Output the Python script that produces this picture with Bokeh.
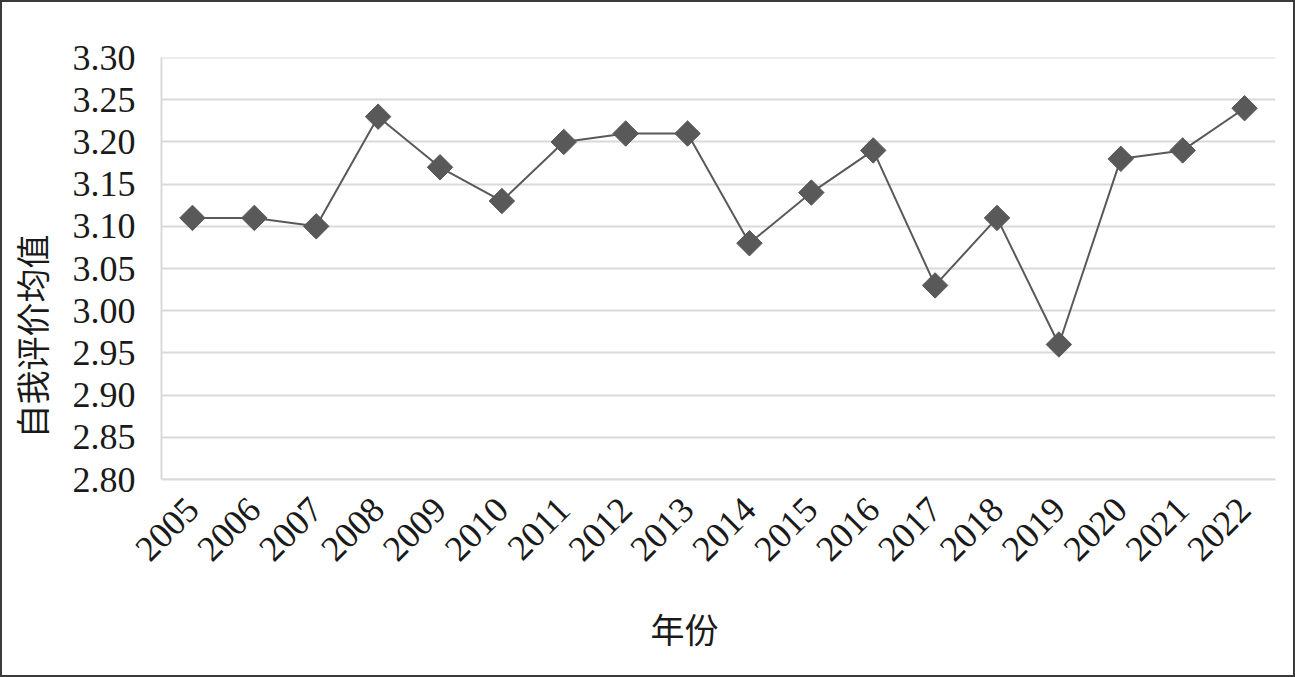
import math
from bokeh.plotting import figure
from bokeh.models import FactorRange, Range1d, SingleIntervalTicker, NumeralTickFormatter
from bokeh.embed import file_html
from bokeh.resources import INLINE

years = ["2005", "2006", "2007", "2008", "2009", "2010", "2011", "2012", "2013",
         "2014", "2015", "2016", "2017", "2018", "2019", "2020", "2021", "2022"]
scores = [3.11, 3.11, 3.10, 3.23, 3.17, 3.13, 3.20, 3.21, 3.21,
          3.08, 3.14, 3.19, 3.03, 3.11, 2.96, 3.18, 3.19, 3.24]
y_title = "自我评价均值"
x_title = "年份"

W, H = 1295, 677
p = figure(width=W, height=H, x_range=FactorRange(factors=years, range_padding=0),
           y_range=Range1d(2.80, 3.3001), output_backend="svg", toolbar_location=None,
           min_border_left=159, min_border_right=22, min_border_top=55, min_border_bottom=200)
p.styles = {"border": "2px solid #3a3a3a", "box-sizing": "border-box"}
p.outline_line_color = None
p.background_fill_color = "white"

p.yaxis.ticker = SingleIntervalTicker(interval=0.05)
p.yaxis.formatter = NumeralTickFormatter(format="0.00")
for ax in (p.xaxis[0], p.yaxis[0]):
    ax.axis_line_color = "#d9d9d9"
    ax.axis_line_width = 2
    ax.major_tick_line_color = None
    ax.minor_tick_line_color = None
    ax.major_label_text_font = "Liberation Serif"
    ax.major_label_text_font_size = "36px"
    ax.major_label_text_color = "#1a1a1a"
    ax.axis_label_text_font = "Noto Sans CJK SC"
    ax.axis_label_text_font_size = "34px"
    ax.axis_label_text_font_style = "normal"
    ax.axis_label_text_color = "#1a1a1a"
p.yaxis.major_label_standoff = 20
p.xaxis.major_label_standoff = 18
p.xaxis.major_label_orientation = math.pi / 4

# trailing ideographic spaces shift the titles to where the reference has them
p.yaxis.axis_label = y_title + "\u3000" * 4
p.xaxis.axis_label = x_title + "\u3000" * 2
p.yaxis.axis_label_standoff = 14
p.xaxis.axis_label_standoff = 30

p.xgrid.grid_line_color = None
p.ygrid.grid_line_color = "#d9d9d9"
p.ygrid.grid_line_width = 2

p.line(years, scores, line_color="#595959", line_width=2)
p.scatter(years, scores, marker="square", angle=math.pi / 4, size=18,
          fill_color="#595959", line_color="#595959")

open("out.html", "w").write(file_html(p, INLINE))
